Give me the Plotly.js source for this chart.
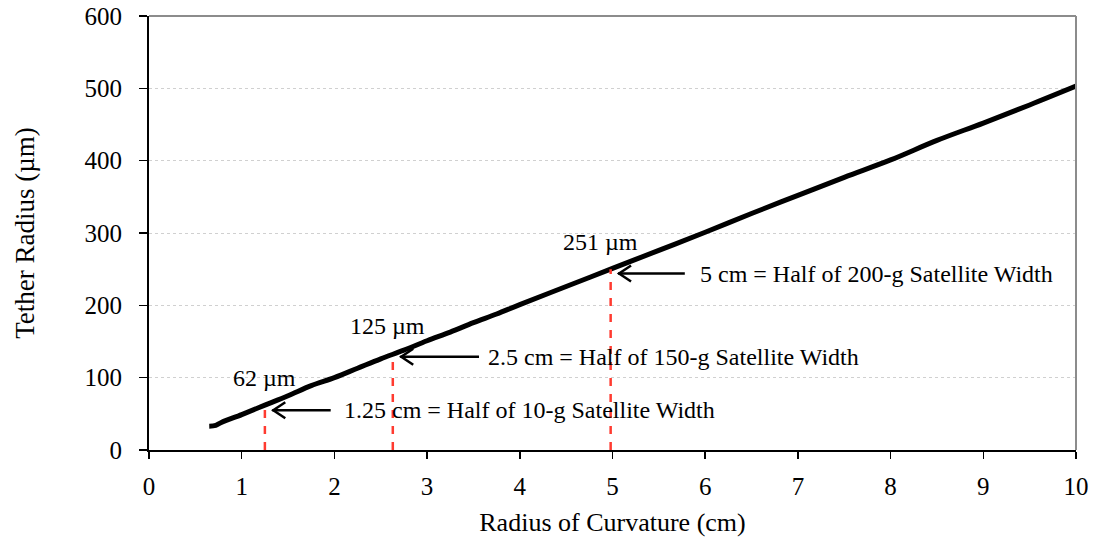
<!DOCTYPE html>
<html>
<head>
<meta charset="utf-8">
<script src="https://cdn.plot.ly/plotly-3.0.1.min.js"></script>
<style>html,body{margin:0;padding:0;background:#fff;}#chart{width:1098px;height:541px;}</style>
</head>
<body>
<div id="chart"></div>
<script>
// Curve data
const radiusCm = [0.65, 0.72, 0.78, 1.0, 1.25, 1.5, 1.75, 2.0, 2.25, 2.5, 2.75, 3.0, 3.25, 3.5, 3.75, 4.0, 4.5, 5.0, 5.5, 6.0, 6.5, 7.0, 7.5, 8.0, 8.5, 9.0, 9.5, 10.0];
const tetherUm = [33, 34, 38, 49, 62, 75, 89, 100, 113, 126, 138, 151, 163, 176, 188, 201, 226, 251, 276, 301, 327, 352, 377, 401, 428, 452, 477, 503];

// Marked points
const markX = [1.25, 2.63, 4.98];
const markTop = [58, 128, 250];
const markLabels = ["62 µm", "125 µm", "251 µm"];
const labelX = [1.25, 2.57, 4.87];
const labelY = [99, 172, 287];
const arrowHeadX = [1.33, 2.71, 5.06];
const arrowHeadY = [55, 129, 244];
const arrowTailX = [1.96, 3.56, 5.78];
const noteText = ["1.25 cm = Half of 10-g Satellite Width", "2.5 cm = Half of 150-g Satellite Width", "5 cm = Half of 200-g Satellite Width"];
const noteX = [2.08, 3.64, 5.92];

const xTicks = [0,1,2,3,4,5,6,7,8,9,10];
const yTicks = [0,100,200,300,400,500,600];

const FONT = "Liberation Serif, Times New Roman, serif";

const traces = [{
  x: radiusCm, y: tetherUm, type: 'scatter', mode: 'lines',
  line: {color: '#000', width: 5, shape: 'spline'}, hoverinfo: 'skip', showlegend: false
}];

const shapes = [];
markX.forEach((mx, i) => {
  shapes.push({type: 'line', xref: 'x', yref: 'y', x0: mx, x1: mx, y0: 0, y1: markTop[i],
    line: {color: '#ff3b30', width: 2.5, dash: '8px,8px'}});
});
// arrows: shaft + open chevron head
arrowHeadX.forEach((hx, i) => {
  shapes.push({type: 'line', xref: 'x', yref: 'y', x0: hx, x1: arrowTailX[i], y0: arrowHeadY[i], y1: arrowHeadY[i],
    line: {color: '#000', width: 2.5}});
  shapes.push({type: 'path', xref: 'x', yref: 'y', xsizemode: 'pixel', ysizemode: 'pixel',
    xanchor: hx, yanchor: arrowHeadY[i], path: 'M 13 8 L 1 0 L 13 -8',
    line: {color: '#000', width: 2.5}});
});
// top and right borders (gray)
shapes.push({type: 'line', xref: 'paper', yref: 'paper', x0: 0, x1: 1, y0: 1, y1: 1, line: {color: '#8c8c8c', width: 2}});
shapes.push({type: 'line', xref: 'paper', yref: 'paper', x0: 1, x1: 1, y0: 0, y1: 1, line: {color: '#8c8c8c', width: 2}});

const annotations = [];
markLabels.forEach((t, i) => {
  annotations.push({x: labelX[i], y: labelY[i], xref: 'x', yref: 'y', text: t, showarrow: false,
    font: {family: FONT, size: 24, color: '#000'}});
  annotations.push({x: noteX[i], y: arrowHeadY[i], xref: 'x', yref: 'y', text: noteText[i], showarrow: false,
    xanchor: 'left', font: {family: FONT, size: 24, color: '#000'}});
});

const layout = {
  width: 1098, height: 541,
  margin: {l: 149, r: 22, t: 16, b: 91},
  paper_bgcolor: '#fff', plot_bgcolor: '#fff',
  font: {family: FONT, size: 24, color: '#000'},
  xaxis: {
    range: [0, 10], tickvals: xTicks, ticktext: xTicks.map(String),
    showgrid: false, zeroline: false, showline: true, linecolor: '#000', linewidth: 2,
    ticks: 'outside', ticklen: 7, tickwidth: 1.5, tickcolor: '#000',
    ticklabelstandoff: 6, ticklabeloverflow: 'allow',
    tickfont: {family: FONT, size: 25},
    title: {text: 'Radius of Curvature (cm)', font: {family: FONT, size: 26}, standoff: 14}
  },
  yaxis: {
    range: [0, 600], tickvals: yTicks, ticktext: yTicks.map(String),
    showgrid: true, gridcolor: '#d0d0d0', griddash: 'dot', gridwidth: 1,
    zeroline: false, showline: true, linecolor: '#000', linewidth: 2,
    ticks: 'outside', ticklen: 8, tickwidth: 1.5, tickcolor: '#000',
    ticklabelstandoff: 12, ticklabeloverflow: 'allow',
    tickfont: {family: FONT, size: 25},
    title: {text: 'Tether Radius (µm)', font: {family: FONT, size: 27}, standoff: 42}
  },
  shapes: shapes,
  annotations: annotations,
  showlegend: false
};

Plotly.newPlot('chart', traces, layout, {displayModeBar: false, staticPlot: true});
</script>
</body>
</html>
